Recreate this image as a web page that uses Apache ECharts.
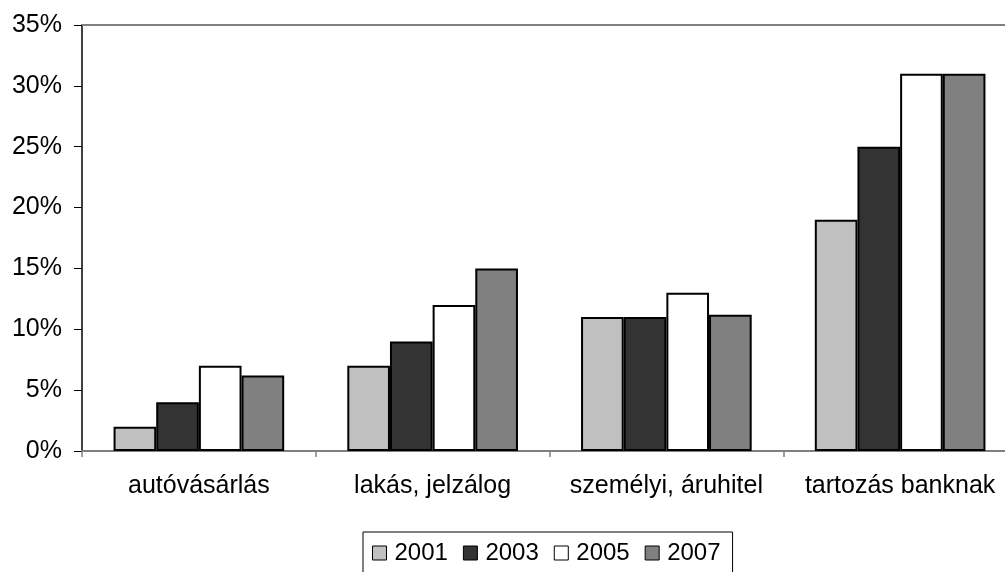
<!DOCTYPE html>
<html>
<head>
<meta charset="utf-8">
<script src="https://cdn.jsdelivr.net/npm/echarts@6/dist/echarts.min.js"></script>
<style>
html,body{margin:0;padding:0;background:#fff;overflow:hidden;width:1005px;height:572px;}
#chart{width:1020px;height:572px;}
</style>
</head>
<body>
<div id="chart"></div>
<script>
const categories = ['autóvásárlás', 'lakás, jelzálog', 'személyi, áruhitel', 'tartozás banknak'];
const years = ['2001', '2003', '2005', '2007'];
const v2001 = [2, 7, 11, 19];
const v2003 = [4, 9, 11, 25];
const v2005 = [7, 12, 13, 31];
const v2007 = [6.2, 15, 11.2, 31];
const yTicks = [0, 5, 10, 15, 20, 25, 30, 35];

const colors = ['#c0c0c0', '#333333', '#ffffff', '#808080'];
const seriesValues = [v2001, v2003, v2005, v2007];
const font = '"Liberation Sans", Arial, sans-serif';

const chart = echarts.init(document.getElementById('chart'), null, {renderer: 'canvas', width: 1020, height: 572});
chart.setOption({
  animation: false,
  backgroundColor: '#ffffff',
  textStyle: {fontFamily: font, color: '#000'},
  grid: {left: 82, top: 25, width: 935, height: 426, containLabel: false},
  legend: {
    left: 363, top: 532,
    orient: 'horizontal',
    itemWidth: 14, itemHeight: 14, itemGap: 15,
    borderColor: '#000', borderWidth: 1,
    padding: [9, 12, 12, 9],
    textStyle: {fontSize: 24, fontFamily: font, color: '#000', padding: [0, 0, 0, 3]},
    data: years.map((y, i) => ({name: y, icon: 'rect', itemStyle: {color: colors[i], borderColor: '#000', borderWidth: 1}}))
  },
  xAxis: [{
    type: 'category',
    data: categories,
    axisLine: {show: true, lineStyle: {color: '#808080', width: 2}},
    axisTick: {show: true, alignWithLabel: false, length: 6, lineStyle: {color: '#808080', width: 1.5}},
    axisLabel: {fontSize: 25, fontFamily: font, color: '#000', margin: 23, interval: 0},
    splitLine: {show: false}
  }, {
    type: 'category',
    position: 'top',
    data: categories,
    axisLine: {show: true, lineStyle: {color: '#808080', width: 2}},
    axisTick: {show: false},
    axisLabel: {show: false}
  }],
  yAxis: {
    type: 'value',
    min: yTicks[0], max: yTicks[yTicks.length - 1], interval: 5,
    axisLine: {show: true, lineStyle: {color: '#000', width: 1.5}},
    axisTick: {show: true, length: 8, lineStyle: {color: '#000', width: 1}},
    axisLabel: {fontSize: 25, fontFamily: font, color: '#000', margin: 20, formatter: v => v + '%'},
    splitLine: {show: false}
  },
  series: years.map((y, i) => ({
    name: y,
    type: 'bar',
    data: seriesValues[i],
    barGap: '0%',
    barCategoryGap: '27%',
    itemStyle: {color: colors[i], borderColor: '#000', borderWidth: 2}
  }))
});
</script>
</body>
</html>
